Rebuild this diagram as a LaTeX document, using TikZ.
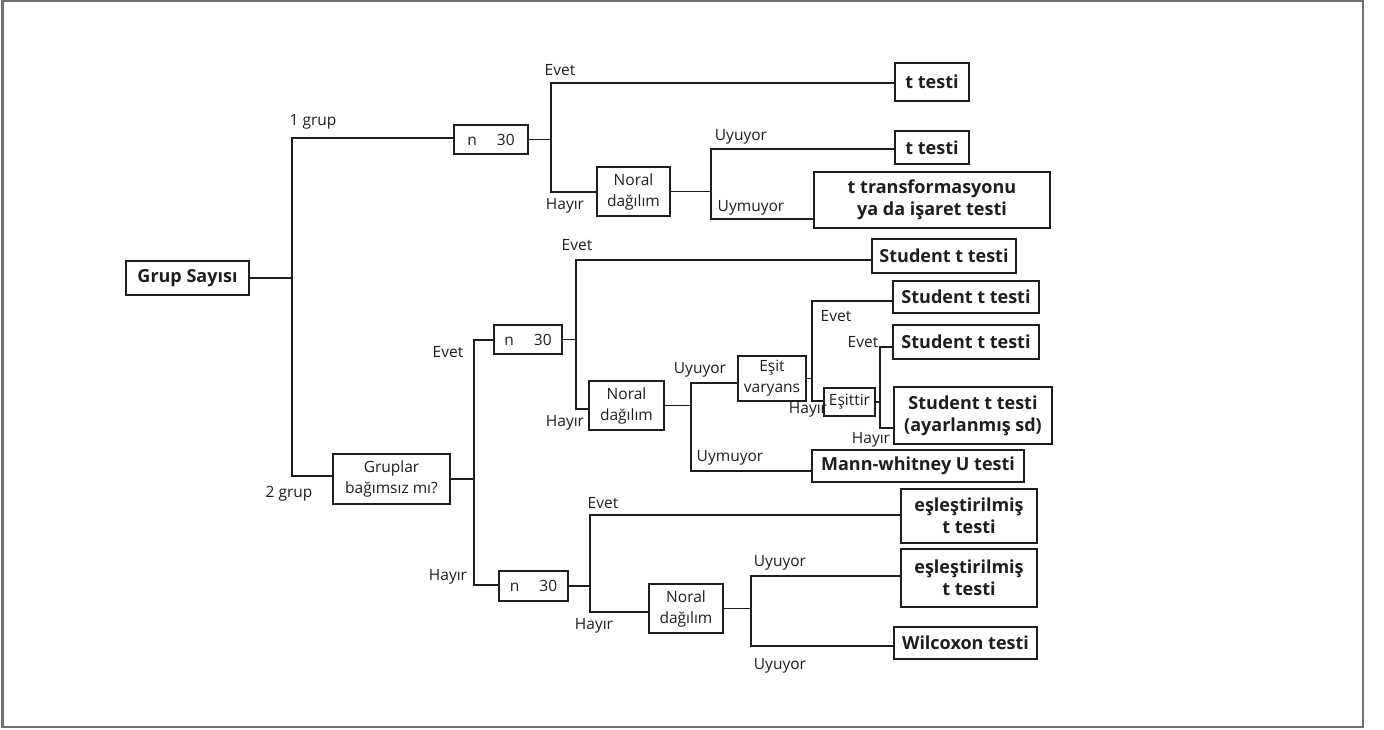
\documentclass[tikz,border=0pt]{standalone}
\usepackage{fontspec}
\setmainfont{Open Sans}
\newcommand\fsreg{\fontsize{15.5}{21}\selectfont}
\newcommand\fsbld{\fontsize{18}{22}\selectfont\bfseries}
\definecolor{ink}{HTML}{1E1E1E}
\definecolor{framegray}{HTML}{707070}
\tikzset{
  dec/.style={draw=ink, line width=1.8pt, inner sep=0pt, align=center, font=\fsreg, text=ink},
  res/.style={dec, font=\fsbld},
  lab/.style={inner sep=0pt, font=\fsreg, text=ink},
  conn/.style={draw=ink, line width=1.8pt}
}
\newcommand\brsplit[5]{%
  \draw[conn] (#1.east) -- (#1.east -| #2);
  \draw[conn] (#4.west |- #2) -- (#2) -- (#3) -- (#5.west |- #3);
}
\begin{document}
\begin{tikzpicture}[x=1pt,y=-1pt]
\useasboundingbox (0,0) rectangle (1384,729);
\draw[framegray, line width=2.5pt] (2.5,1.2) rectangle (1363,727);

% nodes
\node[res, minimum width=123pt, minimum height=34pt] (gs) at (187.5,278) {Grup Sayısı};
\node[dec, minimum width=74pt, minimum height=29pt] (n1) at (491,139.5) {n\hspace{20pt}30};
\node[res, minimum width=74pt, minimum height=38pt] (t1) at (932,82) {t testi};
\node[dec, minimum width=73pt, minimum height=49pt] (nd1) at (633.5,191.5) {Noral\\dağılım};
\node[res, minimum width=74pt, minimum height=33pt] (t2) at (932,147.5) {t testi};
\node[res, minimum width=236pt, minimum height=56pt] (tt) at (932,200) {t transformasyonu\\ya da işaret testi};
\node[dec, minimum width=117pt, minimum height=50pt] (gb) at (391.5,479) {Gruplar\\bağımsız mı?};
\node[dec, minimum width=68pt, minimum height=29pt] (n2) at (528,339.5) {n\hspace{20pt}30};
\node[res, minimum width=144pt, minimum height=34pt] (s1) at (944,256) {Student t testi};
\node[dec, minimum width=75pt, minimum height=49pt] (nd2) at (626.5,405.5) {Noral\\dağılım};
\node[dec, minimum width=68pt, minimum height=45pt] (ev) at (772,378.5) {Eşit\\varyans};
\node[res, minimum width=146pt, minimum height=32pt] (s2) at (966,297) {Student t testi};
\node[dec, minimum width=51pt, minimum height=28pt] (eq) at (849.5,402) {Eşittir};
\node[res, minimum width=146pt, minimum height=34pt] (s3) at (966,342) {Student t testi};
\node[res, minimum width=158pt, minimum height=57pt] (s4) at (973,415.5) {Student t testi\\(ayarlanmış sd)};
\node[res, minimum width=212pt, minimum height=32pt] (mw) at (918,466) {Mann-whitney U testi};
\node[dec, minimum width=69pt, minimum height=30pt] (n3) at (533.5,586) {n\hspace{20pt}30};
\node[res, minimum width=136pt, minimum height=54pt] (e1) at (969,516) {eşleştirilmiş\\t testi};
\node[dec, minimum width=74pt, minimum height=49pt] (nd3) at (686,608.5) {Noral\\dağılım};
\node[res, minimum width=136pt, minimum height=58pt] (e2) at (969,578) {eşleştirilmiş\\t testi};
\node[res, minimum width=143pt, minimum height=32pt] (wx) at (965.5,643) {Wilcoxon testi};

% junction coordinates
\coordinate (aT) at (292,138); \coordinate (aB) at (292,476);
\coordinate (bT) at (551,83);  \coordinate (bB) at (551,192);
\coordinate (cT) at (711,149); \coordinate (cB) at (711,219);
\coordinate (dT) at (474,340); \coordinate (dB) at (474,585);
\coordinate (eT) at (576,260); \coordinate (eB) at (576,409);
\coordinate (fT) at (691,383); \coordinate (fB) at (691,471);
\coordinate (gT) at (812,301); \coordinate (gB) at (812,401);
\coordinate (hT) at (880,347); \coordinate (hB) at (880,428);
\coordinate (iT) at (590,515); \coordinate (iB) at (590,612);
\coordinate (jT) at (751,576); \coordinate (jB) at (751,646);

% connectors
\brsplit{gs}{aT}{aB}{n1}{gb}
\brsplit{n1}{bT}{bB}{t1}{nd1}
\brsplit{nd1}{cT}{cB}{t2}{tt}
\brsplit{gb}{dT}{dB}{n2}{n3}
\brsplit{n2}{eT}{eB}{s1}{nd2}
\brsplit{nd2}{fT}{fB}{ev}{mw}
\brsplit{ev}{gT}{gB}{s2}{eq}
\brsplit{eq}{hT}{hB}{s3}{s4}
\brsplit{n3}{iT}{iB}{e1}{nd3}
\brsplit{nd3}{jT}{jB}{e2}{wx}

% labels
\node[lab] (l1) at (313,122) {1 grup};
\node[lab] (l2) at (289,494) {2 grup};
\node[lab] (l3) at (560,70) {Evet};
\node[lab] (l4) at (565,206) {Hayır};
\node[lab] (l5) at (741,137) {Uyuyor};
\node[lab] (l6) at (751,208) {Uymuyor};
\node[lab] (l7) at (448,352) {Evet};
\node[lab] (l8) at (448,577) {Hayır};
\node[lab] (l9) at (577,245) {Evet};
\node[lab] (l10) at (565,423) {Hayır};
\node[lab] (l11) at (700,370) {Uyuyor};
\node[lab] (l12) at (730,458) {Uymuyor};
\node[lab] (l13) at (836,316) {Evet};
\node[lab] (l14) at (808,410) {Hayır};
\node[lab] (l15) at (863,342) {Evet};
\node[lab] (l16) at (871,440) {Hayır};
\node[lab] (l17) at (603,503) {Evet};
\node[lab] (l18) at (594,626) {Hayır};
\node[lab] (l19) at (780,563) {Uyuyor};
\node[lab] (l20) at (780,666) {Uyuyor};
\end{tikzpicture}
\end{document}
